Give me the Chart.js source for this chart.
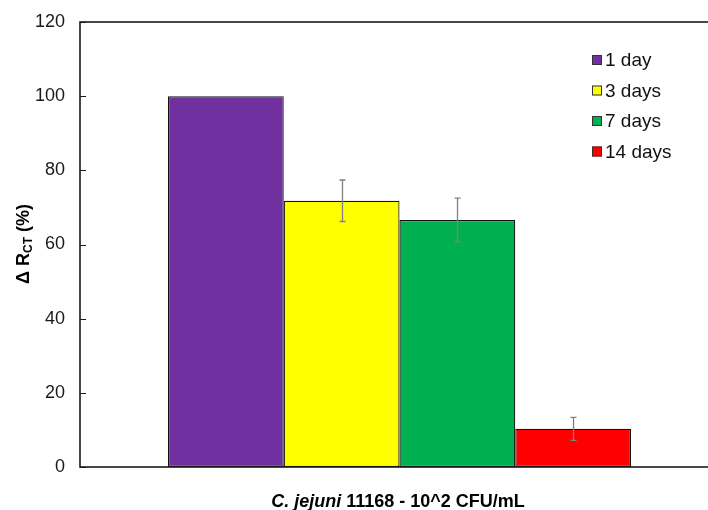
<!DOCTYPE html>
<html><head><meta charset="utf-8">
<script src="https://cdn.jsdelivr.net/npm/chart.js@4"></script>
<style>
html,body{margin:0;padding:0;background:#fff;overflow:hidden;}
#wrap{width:719px;height:510px;position:relative;}
</style></head>
<body><div id="wrap"><canvas id="c"></canvas></div>
<script>
const categories = ["C. jejuni 11168 - 10^2 CFU/mL"];
const seriesLabels = ["1 day", "3 days", "7 days", "14 days"];
const seriesValues = [100, 71.8, 66.6, 10.3];
const seriesErrors = [0, 5.6, 5.9, 3.1];
const seriesColors = ["#7030A0", "#FFFF00", "#00B050", "#FF0000"];
const yTicks = [0, 20, 40, 60, 80, 100, 120];

const FONT = "'Liberation Sans', Arial, sans-serif";

const datasets = seriesLabels.map((lab, i) => ({
  label: lab,
  data: [seriesValues[i]],
  backgroundColor: seriesColors[i],
  borderColor: "#111",
  borderWidth: 1.2,
  borderSkipped: false,
  categoryPercentage: 0.7246,
  barPercentage: 1.0
}));

const decor = {
  id: 'decor',
  afterDatasetsDraw(chart) {
    const ctx = chart.ctx;
    const y = chart.scales.y;
    ctx.save();
    ctx.strokeStyle = "#808080";
    ctx.lineWidth = 1.3;
    chart.data.datasets.forEach((ds, i) => {
      const e = seriesErrors[i];
      if (!e) return;
      const bar = chart.getDatasetMeta(i).data[0];
      const cx = Math.round(bar.x) + 0.5;
      const top = y.getPixelForValue(seriesValues[i] + e);
      const bot = y.getPixelForValue(seriesValues[i] - e);
      ctx.beginPath();
      ctx.moveTo(cx, top); ctx.lineTo(cx, bot);
      ctx.moveTo(cx - 3, top); ctx.lineTo(cx + 3, top);
      ctx.moveTo(cx - 3, bot); ctx.lineTo(cx + 3, bot);
      ctx.stroke();
    });
    ctx.restore();
  },
  afterDraw(chart) {
    const ctx = chart.ctx;
    const a = chart.chartArea;
    const y = chart.scales.y;
    ctx.save();
    ctx.strokeStyle = "#1a1a1a";
    ctx.lineWidth = 1.6;
    ctx.strokeRect(a.left, a.top, a.right - a.left + 5, a.bottom - a.top);
    ctx.lineWidth = 1;
    yTicks.forEach(v => {
      const py = Math.round(y.getPixelForValue(v)) + 0.5;
      ctx.beginPath(); ctx.moveTo(a.left, py); ctx.lineTo(a.left + 6, py); ctx.stroke();
    });
    ctx.textBaseline = "middle";
    ctx.font = "19px " + FONT;
    seriesLabels.forEach((lab, i) => {
      const ly = 60 + i * 30.5;
      ctx.fillStyle = seriesColors[i];
      ctx.fillRect(592, ly - 5, 10, 10);
      ctx.strokeStyle = "#333";
      ctx.lineWidth = 1;
      ctx.strokeRect(592.5, ly - 4.5, 9, 9);
      ctx.fillStyle = "#111";
      ctx.textAlign = "left";
      ctx.fillText(lab, 605, ly + 1);
    });
    const p1 = "C. jejuni", p2 = " 11168 - 10^2 CFU/mL";
    const f1 = "italic bold 18px " + FONT, f2 = "bold 18px " + FONT;
    ctx.font = f1; const w1 = ctx.measureText(p1).width;
    ctx.font = f2; const w2 = ctx.measureText(p2).width;
    const cx = 398, ty = 502;
    let sx = cx - (w1 + w2) / 2;
    ctx.fillStyle = "#000";
    ctx.textAlign = "left";
    ctx.textBaseline = "middle";
    ctx.font = f1; ctx.fillText(p1, sx, ty);
    ctx.font = f2; ctx.fillText(p2, sx + w1, ty);
    ctx.translate(23, 244);
    ctx.rotate(-Math.PI / 2);
    const a1 = "Δ R", a2 = "CT", a3 = " (%)";
    const g1 = "bold 18px " + FONT, g2 = "bold 12px " + FONT;
    ctx.font = g1; const m1 = ctx.measureText(a1).width, m3 = ctx.measureText(a3).width;
    ctx.font = g2; const m2 = ctx.measureText(a2).width;
    let x0 = -(m1 + m2 + m3) / 2;
    ctx.textBaseline = "alphabetic";
    ctx.font = g1; ctx.fillText(a1, x0, 6);
    ctx.font = g2; ctx.fillText(a2, x0 + m1, 9);
    ctx.font = g1; ctx.fillText(a3, x0 + m1 + m2, 6);
    ctx.restore();
  }
};

new Chart(document.getElementById('c'), {
  type: 'bar',
  data: { labels: categories, datasets },
  options: {
    responsive: true,
    maintainAspectRatio: false,
    animation: false,
    layout: { padding: { top: 22, left: 0, right: 0, bottom: 0 } },
    plugins: { legend: { display: false }, tooltip: { enabled: false } },
    scales: {
      x: {
        grid: { display: false, drawTicks: false },
        border: { display: false },
        ticks: { display: false },
        afterFit(s) { s.height = 43; s.paddingTop = 0; s.paddingBottom = 0; }
      },
      y: {
        min: 0, max: 120,
        afterBuildTicks(s) { s.ticks = yTicks.map(v => ({ value: v })); },
        grid: { display: false, drawTicks: false },
        border: { display: false },
        ticks: { color: "#1a1a1a", font: { family: FONT, size: 18 }, padding: 15 },
        afterFit(s) { s.width = 80; s.paddingTop = 0; s.paddingBottom = 0; }
      }
    }
  },
  plugins: [decor]
});
</script>
</body></html>
